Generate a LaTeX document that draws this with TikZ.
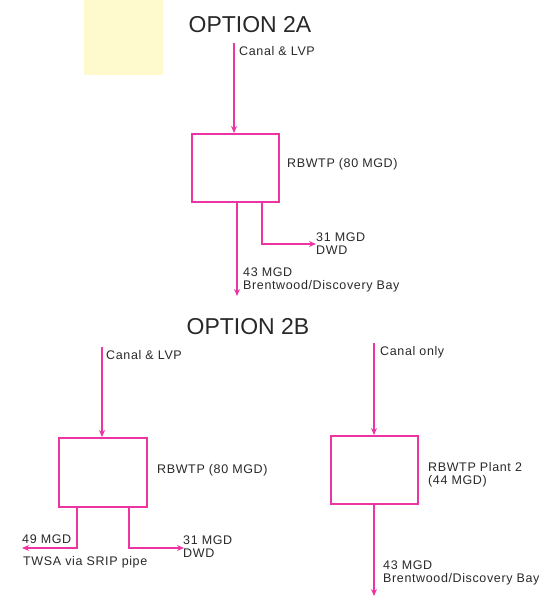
\documentclass[tikz,border=0pt]{standalone}
\usepackage{fontspec}
\setmainfont{Liberation Sans}
\newfontfamily\lblfont[LetterSpace=5]{Liberation Sans}
\usetikzlibrary{arrows.meta}
\definecolor{pipe}{RGB}{236,52,162}
\definecolor{ink}{RGB}{40,40,40}
\definecolor{note}{RGB}{255,250,205}
\tikzset{
  flow/.style={draw=pipe, line width=2pt, -{Stealth[length=7pt,width=6pt]}},
  plant/.style={draw=pipe, line width=2pt, fill=white, rectangle, inner sep=0pt},
  lbl/.style={text=ink, font=\lblfont\fontsize{12.5}{13}\selectfont, inner sep=0pt, anchor=west, align=left},
  ttl/.style={text=ink, font=\fontsize{23}{24}\selectfont, inner sep=0pt}
}
\begin{document}
\begin{tikzpicture}[x=1pt,y=-1pt]
\useasboundingbox (0,0) rectangle (556,603);
\fill[note] (84,0) rectangle (163,75);
% Option 2A
\node[ttl] (t2a) at (250,25) {OPTION 2A};
\node[plant, minimum width=87pt, minimum height=68pt] (b1) at (235.5,168) {};
\coordinate (in1) at (234,43);
\draw[flow] (in1) -- (b1.north -| in1);
\node[lbl] (l1) at (239,51) {Canal \& LVP};
\node[lbl] (r1) at (287,164) {RBWTP (80 MGD)};
\coordinate (o1) at (237,296);
\draw[flow] (b1.south -| o1) -- (o1);
\coordinate (c1) at (262,244);
\coordinate (e1) at (316,244);
\draw[flow] (b1.south -| c1) -- (c1) -- (e1);
\node[lbl] (d1) at (316,244) {31 MGD\\DWD};
\node[lbl] (m1) at (243,280) {43 MGD\\Brentwood/Discovery Bay};
% Option 2B
\node[ttl] (t2b) at (248,327) {OPTION 2B};
\node[plant, minimum width=88pt, minimum height=69pt] (b2) at (103,472.5) {};
\coordinate (in2) at (102,347);
\draw[flow] (in2) -- (b2.north -| in2);
\node[lbl] (l2) at (106,355) {Canal \& LVP};
\node[lbl] (r2) at (157,470) {RBWTP (80 MGD)};
\coordinate (c2) at (77,548);
\coordinate (e2) at (22,548);
\draw[flow] (b2.south -| c2) -- (c2) -- (e2);
\node[lbl] (w2) at (22,539) {49 MGD};
\node[lbl] (s2) at (23,562) {TWSA via SRIP pipe};
\coordinate (c3) at (129,548);
\coordinate (e3) at (184,548);
\draw[flow] (b2.south -| c3) -- (c3) -- (e3);
\node[lbl] (d2) at (183,547) {31 MGD\\DWD};
% Plant 2
\node[plant, minimum width=87pt, minimum height=68pt] (b3) at (374.5,470) {};
\coordinate (in3) at (374,343);
\draw[flow] (in3) -- (b3.north -| in3);
\node[lbl] (l3) at (380,352) {Canal only};
\node[lbl] (r3) at (428,475) {RBWTP Plant 2\\(44 MGD)};
\coordinate (o3) at (374,596);
\draw[flow] (b3.south -| o3) -- (o3);
\node[lbl] (m3) at (383,573) {43 MGD\\Brentwood/Discovery Bay};
\end{tikzpicture}
\end{document}
